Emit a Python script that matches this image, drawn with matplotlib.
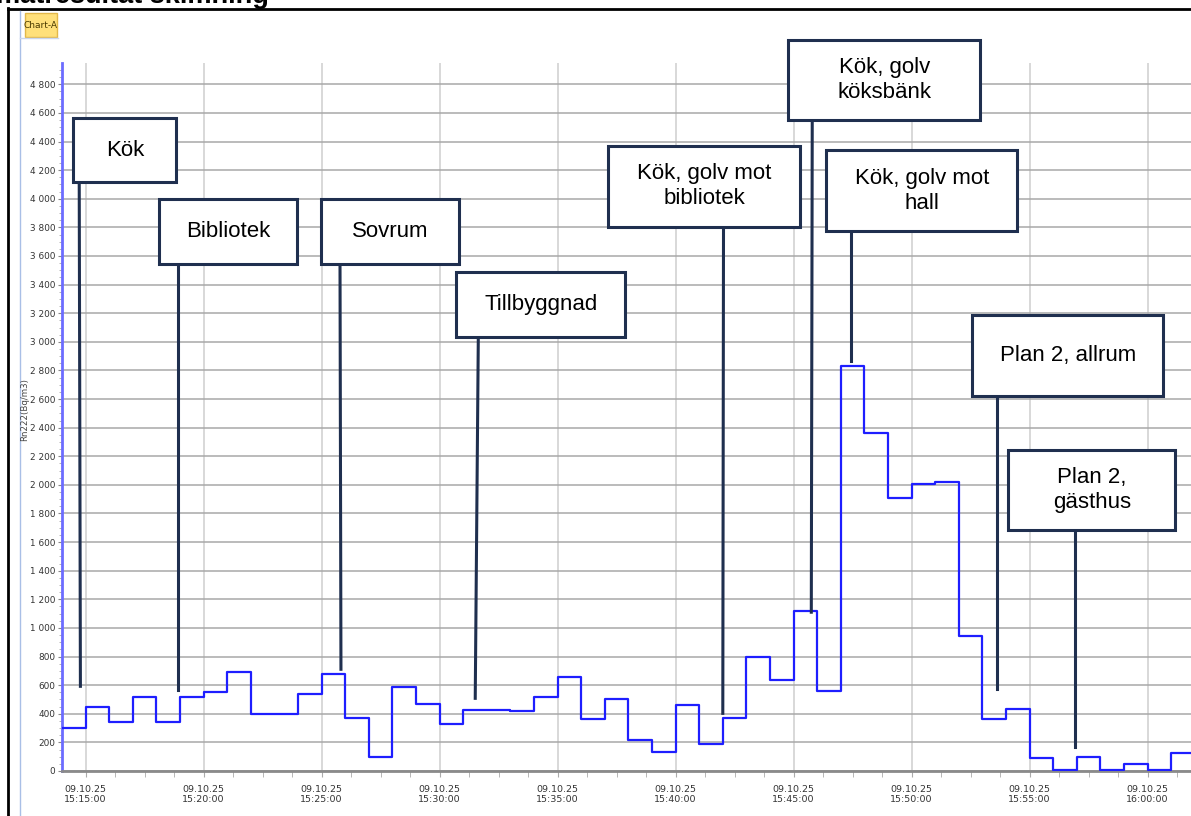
import datetime as dt
import matplotlib
matplotlib.use("Agg")
import matplotlib.pyplot as plt
import matplotlib.dates as mdates
from matplotlib.patches import Rectangle
from matplotlib.lines import Line2D
from matplotlib.ticker import FuncFormatter, MultipleLocator

plt.rcParams['font.family'] = ['Liberation Sans', 'DejaVu Sans']

# mätvärden Rn222, ett värde per minut från 15:14
start = dt.datetime(2025, 10, 9, 15, 14)
radon = [300, 450, 340, 520, 340, 515, 550, 690, 395, 395,
         535, 675, 370, 100, 590, 470, 330, 425, 425, 418,
         517, 657, 362, 506, 214, 136, 464, 186, 372, 800,
         634, 1120, 556, 2830, 2365, 1906, 2003, 2020, 945, 363,
         434, 92, 7, 101, 7, 48, 7, 124]
times = [start + dt.timedelta(minutes=i) for i in range(len(radon))]

# rutor med platsnamn (minuter från start, Bq/m3)
labels = ["Kök", "Bibliotek", "Sovrum", "Tillbyggnad", "Kök, golv mot\nbibliotek",
          "Kök, golv\nköksbänk", "Kök, golv mot\nhall", "Plan 2, allrum", "Plan 2,\ngästhus"]
box_x0 = [0.48, 4.13, 10.99, 16.71, 23.15, 30.78, 32.39, 38.57, 40.10]
box_x1 = [4.84, 9.97, 16.84, 23.87, 31.27, 38.91, 40.48, 46.67, 47.17]
box_y0 = [4115, 3541, 3541, 3032, 3803, 4548, 3773, 2620, 1687]
box_y1 = [4562, 3996, 3996, 3486, 4369, 5108, 4339, 3185, 2247]
lead_top = [0.73, 4.93, 11.78, 17.64, 28.03, 31.79, 33.45, 39.63, 42.92]
lead_tip = [0.78, 4.93, 11.82, 17.51, 28.00, 31.75, 33.45, 39.63, 42.92]
lead_y = [592, 564, 711, 508, 403, 1110, 2864, 571, 166]

W, H = 1191, 816
fig = plt.figure(figsize=(W / 100, H / 100), dpi=100)
ax = fig.add_axes([62 / W, (H - 771) / H, (W - 62) / W, (771 - 63) / H])


def t(m):
    return mdates.date2num(start + dt.timedelta(minutes=m))


# stegkurvan
ax.step(times + [times[-1] + dt.timedelta(minutes=1)], radon + [radon[-1]],
        where='post', color='#1e1eff', lw=1.6, zorder=3)

ax.set_xlim(t(0), t(1129 / 23.6))
ax.set_ylim(0, 4949)

ax.yaxis.set_major_locator(MultipleLocator(200))
ax.yaxis.set_minor_locator(MultipleLocator(50))
ax.yaxis.set_major_formatter(FuncFormatter(lambda v, p: f"{int(v):,}".replace(",", " ")))
ax.xaxis.set_major_locator(mdates.MinuteLocator(byminute=range(0, 60, 5)))
ax.xaxis.set_minor_locator(MultipleLocator(75 / 86400))
ax.xaxis.set_major_formatter(mdates.DateFormatter('%d.%m.%y\n%H:%M:%S'))

ax.grid(axis='y', which='major', color='#a8a8a8', lw=1.1)
ax.grid(axis='x', which='major', color='#d6d6d6', lw=1.3)
ax.set_axisbelow(True)

for s in ['top', 'right']:
    ax.spines[s].set_visible(False)
ax.spines['left'].set_color('#6c6cff')
ax.spines['left'].set_linewidth(2)
ax.spines['bottom'].set_color('#8a8a8a')
ax.spines['bottom'].set_linewidth(2)

ax.tick_params(axis='y', which='major', length=3, color='#888888', labelsize=6.4,
               labelcolor='#333333', pad=2)
ax.tick_params(axis='y', which='minor', length=2, color='#aaaaaa')
ax.tick_params(axis='x', which='both', length=4, color='#aaaaaa', labelsize=6.8,
               labelcolor='#333333', pad=6)
for lab in ax.get_xticklabels() + ax.get_yticklabels():
    lab.set_fontfamily(['Liberation Sans Narrow', 'DejaVu Sans'])

fig.text(25 / W, 1 - 410 / H, "Rn222(Bq/m3)", rotation=90, ha='center', va='center',
         fontsize=6.2, color='#444444', family='DejaVu Sans')

# rutor och linjer
navy = '#1f2f4f'
for i, lab in enumerate(labels):
    ax.add_patch(Rectangle((t(box_x0[i]), box_y0[i]), t(box_x1[i]) - t(box_x0[i]),
                           box_y1[i] - box_y0[i], facecolor='white', edgecolor=navy,
                           lw=2.2, clip_on=False, zorder=5))
    ax.text((t(box_x0[i]) + t(box_x1[i])) / 2, (box_y0[i] + box_y1[i]) / 2, lab,
            ha='center', va='center', fontsize=16, linespacing=1.25, color='black',
            clip_on=False, zorder=6)
    ax.plot([t(lead_top[i]), t(lead_tip[i])], [box_y0[i], lead_y[i]], color=navy,
            lw=2.2, clip_on=False, zorder=4)

# ram, flik och avklippt rubrik
fig.add_artist(Line2D([8 / W, 8 / W], [0, 1 - 8 / H], color='black', lw=2))
fig.add_artist(Line2D([8 / W, 1], [1 - 9 / H, 1 - 9 / H], color='black', lw=2))
fig.add_artist(Line2D([20 / W, 20 / W], [0, 1 - 11 / H], color='#a9bfe6', lw=1))
fig.add_artist(Line2D([20 / W, 58 / W], [1 - 38 / H, 1 - 38 / H], color='#c9d6ee', lw=1))
fig.add_artist(Rectangle((25 / W, 1 - 37 / H), 32 / W, 24 / H, facecolor='#ffe07a',
                         edgecolor='#e2b84a', lw=1, transform=fig.transFigure))
fig.text(41 / W, 1 - 25 / H, "Chart-A", ha='center', va='center', fontsize=6.5,
         color='#4a3a00', family=['Liberation Sans Narrow', 'DejaVu Sans'])
fig.text(-4 / W, 1 - 3 / H, "mätresultat skimning", ha='left', va='baseline',
         fontsize=19.5, fontweight='bold')

fig.savefig("out.png", dpi=100)
